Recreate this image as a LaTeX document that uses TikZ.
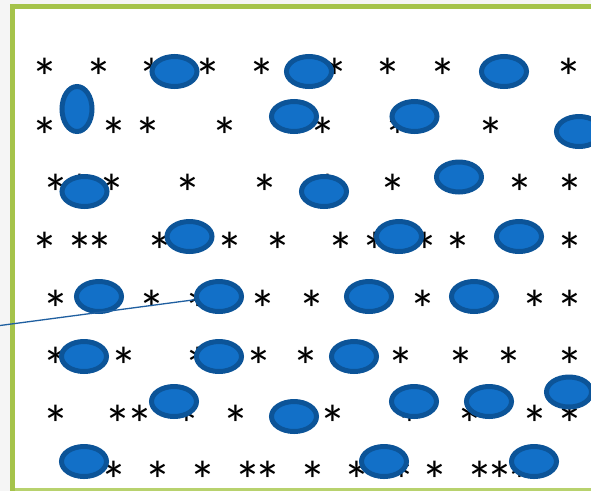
\documentclass[tikz,border=0pt]{standalone}
\usepackage{fontspec}
\setmainfont{Carlito}
\usepackage{xcolor}
\usepackage{tikz}
\usetikzlibrary{shapes.geometric}

\definecolor{framegreen}{RGB}{165,195,74}
\definecolor{edgegreen}{RGB}{184,210,110}
\definecolor{blobfill}{RGB}{18,112,200}
\definecolor{blobline}{RGB}{12,84,152}
\definecolor{pointer}{RGB}{31,95,160}

\begin{document}
\begin{tikzpicture}[x=1pt, y=-1pt,
    ast/.style={font=\fontsize{54}{54}\selectfont, inner sep=0pt, anchor=center, yshift=-9pt},
    blob/.style={ellipse, draw=blobline, fill=blobfill, line width=5pt, inner sep=0pt,
                 minimum width=45pt, minimum height=30pt},
    tallblob/.style={blob, minimum width=30pt, minimum height=45pt}]
      \useasboundingbox (0,0) rectangle (591,491);

      % frame
      \fill[gray!8] (0,0) rectangle (591,491);
      \fill[white] (15,9) rectangle (591,488);
      \fill[framegreen] (10,4) rectangle (591,9);
      \fill[framegreen] (10,4) rectangle (15,491);
      \fill[edgegreen] (15,488) rectangle (591,491);

      % asterisks, row by row
      \foreach \x [count=\i] in {45,99,152,208,262,335,388,443,569}
        \node[ast] (a1-\i) at (\x,68) {*};
      \foreach \x [count=\i] in {45,114,148,225,323,398,491}
        \node[ast] (a2-\i) at (\x,127) {*};
      \foreach \x [count=\i] in {56,80,112,188,265,328,393,520,570}
        \node[ast] (a3-\i) at (\x,184) {*};
      \foreach \x [count=\i] in {45,80,100,160,230,278,341,375,425,458,570}
        \node[ast] (a4-\i) at (\x,242) {*};
      \foreach \x [count=\i] in {56,152,198,263,312,423,535,570}
        \node[ast] (a5-\i) at (\x,300) {*};
      \foreach \x [count=\i] in {56,124,198,259,306,401,461,509,570}
        \node[ast] (a6-\i) at (\x,357) {*};
      \foreach \x [count=\i] in {56,118,140,187,236,333,410,470,535,570}
        \node[ast] (a7-\i) at (\x,415) {*};
      \foreach \x [count=\i] in {114,158,203,248,268,313,357,402,435,480,500,520}
        \node[ast] (a8-\i) at (\x,471) {*};

      % blobs on top
      \node[blob] (b1) at (174.5,71.5) {};
      \node[blob] (b2) at (309,71.5) {};
      \node[blob] (b3) at (504,71.5) {};
      \node[tallblob] (b4) at (77,109) {};
      \node[blob] (b5) at (294,116.5) {};
      \node[blob] (b6) at (414.5,116.5) {};
      \node[blob] (b7) at (579,131.5) {};
      \node[blob] (b8) at (84.5,191.5) {};
      \node[blob] (b9) at (324,191.5) {};
      \node[blob] (b10) at (459,177) {};
      \node[blob] (b11) at (189.5,236.5) {};
      \node[blob] (b12) at (399,236.5) {};
      \node[blob] (b13) at (519,236.5) {};
      \node[blob] (b14) at (99,296.5) {};
      \node[blob] (b15) at (219,296.5) {};
      \node[blob] (b16) at (369,296.5) {};
      \node[blob] (b17) at (474,296.5) {};
      \node[blob] (b18) at (84,356.5) {};
      \node[blob] (b19) at (219,356.5) {};
      \node[blob] (b20) at (354,356.5) {};
      \node[blob] (b21) at (174,401.5) {};
      \node[blob] (b22) at (294,416.5) {};
      \node[blob] (b23) at (414,401.5) {};
      \node[blob] (b24) at (489,401.5) {};
      \node[blob] (b25) at (569,392) {};
      \node[blob] (b26) at (84,461.5) {};
      \node[blob] (b27) at (384,461.5) {};
      \node[blob] (b28) at (534,461.5) {};

      % pointer line
      \coordinate (tail) at (0,325.5);
      \draw[pointer, line width=1.3pt] (tail) -- (b15);
\end{tikzpicture}
\end{document}
